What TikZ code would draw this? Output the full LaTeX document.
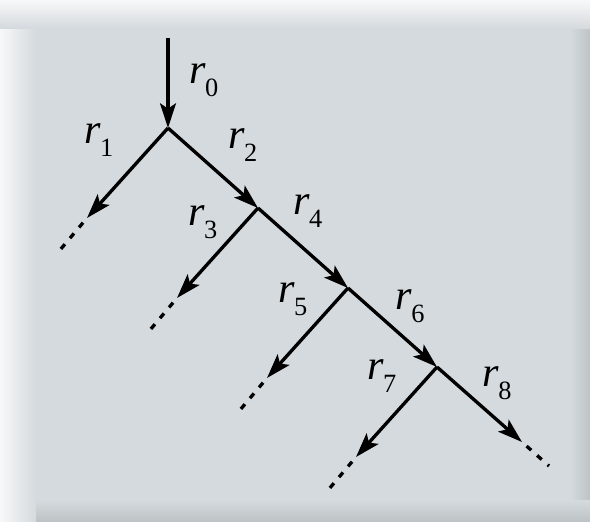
\documentclass[tikz,border=0pt]{standalone}
\usepackage{fontspec}
\setmainfont{Liberation Serif}
\usetikzlibrary{arrows.meta}

\definecolor{panelgray}{RGB}{213,218,222}
\definecolor{edgegray}{RGB}{190,195,198}
\newcommand{\rsub}[1]{\textit{r}\kern-0.5pt\raisebox{-0.3em}{\fontsize{15}{15}\selectfont #1}}

\begin{document}
\begin{tikzpicture}[x=0.02cm, y=-0.02cm, >={Stealth[length=14pt, width=9pt, inset=3pt]}]
  % Styles
  \tikzset{branch/.style={line width=1.9pt}}
  \tikzset{tail/.style={line width=1.9pt, dash pattern=on 3.5pt off 4.5pt, dash phase=4.5pt}}
  \tikzset{rlabel/.style={font=\fontsize{24}{28}\selectfont, inner sep=0pt}}

  \useasboundingbox (0,0) rectangle (590,521);

  % --- Panel ---
  \fill[panelgray] (0,0) rectangle (590,521);
  \shade[left color=panelgray, right color=edgegray] (570,0) rectangle (590,521);
  \shade[top color=panelgray, bottom color=edgegray] (0,500) rectangle (590,521);
  \shade[left color=white, right color=panelgray] (-8,0) rectangle (36,521);
  \shade[top color=white, bottom color=panelgray] (0,-6) rectangle (590,28);

  % --- Junctions ---
  \coordinate (j0) at (168,38);
  \coordinate (j1) at (168,128);
  \coordinate (j2) at (258,208);
  \coordinate (j3) at (348,288);
  \coordinate (j4) at (437,367);

  % branch tips and dotted ends
  \coordinate (t1) at (87,218);   \coordinate (e1) at (60,250);
  \coordinate (t2) at (177,298);  \coordinate (e2) at (150,330);
  \coordinate (t3) at (267,378);  \coordinate (e3) at (240,410);
  \coordinate (t4) at (356,457);  \coordinate (e4) at (329,489);
  \coordinate (t5) at (522,442);  \coordinate (e5) at (549,466);

  % --- Labels ---
  \node[rlabel] (r0) at (204,80) {\rsub{0}};
  \node[rlabel] (r1) at (99,140) {\rsub{1}};
  \node[rlabel] (r2) at (243,145) {\rsub{2}};
  \node[rlabel] (r3) at (203,222) {\rsub{3}};
  \node[rlabel] (r4) at (308,211) {\rsub{4}};
  \node[rlabel] (r5) at (293,299) {\rsub{5}};
  \node[rlabel] (r6) at (410,306) {\rsub{6}};
  \node[rlabel] (r7) at (382,376) {\rsub{7}};
  \node[rlabel] (r8) at (497,383) {\rsub{8}};

  % --- Main line ---
  \path[->, branch]
    (j0) edge (j1)
    (j1) edge (j2)
    (j2) edge (j3)
    (j3) edge (j4)
    (j4) edge (t5);
  \draw[tail] (t5) -- (e5);

  % --- Side branches ---
  \foreach \i in {1,...,4} {
    \draw[->, branch] (j\i) -- (t\i);
    \draw[tail] (t\i) -- (e\i);
  }
\end{tikzpicture}
\end{document}
